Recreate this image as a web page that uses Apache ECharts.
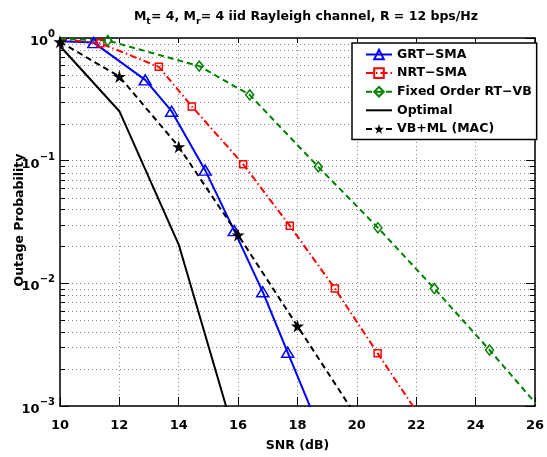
<!DOCTYPE html>
<html>
<head>
<meta charset="utf-8">
<script src="https://cdn.jsdelivr.net/npm/echarts@6/dist/echarts.min.js"></script>
<style>html,body{margin:0;padding:0;background:#fff}#c{width:547px;height:457px}</style>
</head>
<body>
<div id="c"></div>
<script>
// ---- data ----
const xTicks = [10, 12, 14, 16, 18, 20, 22, 24, 26];
const yTicks = [0.001, 0.01, 0.1, 1];

const grtX = [10, 11.14, 12.87, 13.76, 14.89, 15.87, 16.83, 17.67, 18.6];
const grtY = [0.94, 0.917, 0.456, 0.253, 0.0837, 0.0269, 0.00853, 0.00274, 0.00078];

const nrtX = [10, 11.36, 13.33, 14.44, 16.17, 17.74, 19.26, 20.7, 22.2];
const nrtY = [0.98, 0.906, 0.582, 0.277, 0.0935, 0.0295, 0.00906, 0.00269, 0.00077];

const fixX = [10, 11.61, 14.69, 16.39, 18.7, 20.71, 22.61, 24.47, 26.3];
const fixY = [0.99, 0.952, 0.590, 0.344, 0.089, 0.0284, 0.00907, 0.00286, 0.00088];

const optX = [10, 12, 14, 16];
const optY = [0.86, 0.253, 0.0207, 0.00046];

const vbX = [10, 12, 14, 16, 18, 20];
const vbY = [0.93, 0.485, 0.130, 0.0248, 0.00448, 0.00081];

const seriesNames = ['GRT\u2212SMA', 'NRT\u2212SMA', 'Fixed Order RT\u2212VB', 'Optimal', 'VB+ML (MAC)'];

// minor tick positions of the log axis (2..9 per decade)
const minorY = [];
[-3, -2, -1].forEach(function (d) {
  for (let k = 2; k <= 9; k++) minorY.push(+(k * Math.pow(10, d)).toPrecision(3));
});

function pairs(xs, ys, hideFirst) {
  return xs.map(function (x, i) {
    const item = { value: [x, ys[i]] };
    if (hideFirst && i === 0) item.symbol = 'none';
    return item;
  });
}

const STAR = 'path://M50,0 L61.2,34.5 L97.6,34.5 L68.2,55.9 L79.4,90.5 L50,69.1 L20.6,90.5 L31.8,55.9 L2.4,34.5 L38.8,34.5 Z';
const FONT = '"DejaVu Sans", Verdana, sans-serif';

const chart = echarts.init(document.getElementById('c'), null, { renderer: 'canvas' });

const axisLineStyle = { color: '#000', width: 1.5 };

chart.setOption({
  animation: false,
  backgroundColor: '#fff',
  textStyle: { fontFamily: FONT },
  title: {
    left: 301, top: 1, textAlign: 'center',
    text: '{n|M}{s|t}{n|= 4, M}{s|r}{n|= 4 iid Rayleigh channel, R = 12 bps/Hz}',
    textStyle: {
      rich: {
        n: { fontFamily: FONT, fontSize: 12.5, fontWeight: 'bold', color: '#000' },
        s: { fontFamily: FONT, fontSize: 9.5, fontWeight: 'bold', color: '#000', padding: [11, 0, 0, 0] }
      }
    }
  },
  grid: { left: 60, right: 7, top: 38, bottom: 44 },
  legend: {
    data: [
      { name: seriesNames[0] },
      { name: seriesNames[1] },
      { name: seriesNames[2] },
      { name: seriesNames[3], itemStyle: { opacity: 0 } },
      { name: seriesNames[4] }
    ],
    orient: 'vertical',
    left: 352, top: 43,
    padding: [5, 5, 4, 13],
    itemWidth: 26, itemHeight: 12, itemGap: 5.6,
    backgroundColor: '#fff',
    borderColor: '#000', borderWidth: 1.5,
    textStyle: { fontFamily: FONT, fontSize: 12.5, fontWeight: 'bold', color: '#000' }
  },
  xAxis: [{
    type: 'value', min: xTicks[0], max: xTicks[xTicks.length - 1], interval: 2,
    name: 'SNR (dB)', nameLocation: 'middle', nameGap: 33,
    nameTextStyle: { fontFamily: FONT, fontSize: 12.5, fontWeight: 'bold', color: '#000' },
    axisLine: { lineStyle: axisLineStyle },
    axisTick: { inside: true, length: 9, lineStyle: { color: '#000', width: 1 } },
    axisLabel: { fontFamily: FONT, fontSize: 13, fontWeight: 'bold', color: '#000', margin: 13 },
    splitLine: { show: true, lineStyle: { color: '#888', width: 1, type: [1, 3] } }
  }, {
    type: 'value', position: 'top', min: xTicks[0], max: xTicks[xTicks.length - 1], interval: 2,
    axisLine: { show: true, lineStyle: axisLineStyle },
    axisTick: { show: true, inside: true, length: 5, lineStyle: { color: '#000', width: 1 } },
    axisLabel: { show: false },
    splitLine: { show: false }
  }],
  yAxis: [{
    type: 'log', logBase: 10, min: yTicks[0], max: yTicks[yTicks.length - 1],
    axisLine: { show: true, lineStyle: axisLineStyle },
    axisTick: { show: true, inside: true, length: 9, lineStyle: { color: '#000', width: 1 } },
    axisLabel: {
      margin: 5,
      formatter: function (v) {
        const e = Math.round(Math.log10(v));
        return '{b|10}{s|' + (e < 0 ? '\u2212' + (-e) : e) + '}';
      },
      rich: {
        b: { fontFamily: FONT, fontSize: 13, fontWeight: 'bold', color: '#000', padding: [7, 0, 0, 0] },
        s: { fontFamily: FONT, fontSize: 10, fontWeight: 'bold', color: '#000', padding: [0, 0, 7, 0] }
      }
    },
    splitLine: { show: true, lineStyle: { color: '#888', width: 1, type: [1, 3] } },
    minorTick: { show: false }
  }, {
    type: 'log', logBase: 10, position: 'right', min: yTicks[0], max: yTicks[yTicks.length - 1],
    axisLine: { show: true, lineStyle: axisLineStyle },
    axisTick: { show: true, inside: true, length: 9, lineStyle: { color: '#000', width: 1 } },
    axisLabel: { show: false },
    splitLine: { show: false }
  }],
  graphic: [{
    type: 'text', rotation: Math.PI / 2,
    style: { text: 'Outage Probability', font: 'bold 12.5px ' + FONT, fill: '#000', textAlign: 'center', textVerticalAlign: 'middle' },
    x: 20, y: 220
  }],
  series: [
    {
      type: 'custom', name: 'minor', z: 1, silent: true,
      xAxisIndex: 0, yAxisIndex: 0,
      data: minorY.map(function (v) { return [xTicks[0], v]; }),
      encode: { x: 0, y: 1 },
      clip: false,
      renderItem: function (params, api) {
        const p = api.coord([api.value(0), api.value(1)]);
        const y = Math.round(p[1]) + 0.5;
        const cs = params.coordSys;
        const L = cs.x, R = cs.x + cs.width;
        return {
          type: 'group', children: [
            { type: 'line', shape: { x1: L, y1: y, x2: R, y2: y }, style: { stroke: '#888', lineWidth: 1, lineDash: [1, 3] } },
            { type: 'line', shape: { x1: L, y1: y, x2: L + 5, y2: y }, style: { stroke: '#000', lineWidth: 1 } },
            { type: 'line', shape: { x1: R - 5, y1: y, x2: R, y2: y }, style: { stroke: '#000', lineWidth: 1 } }
          ]
        };
      }
    },
    {
      name: seriesNames[0], type: 'line', z: 3, clip: true,
      data: pairs(grtX, grtY, true),
      symbol: 'triangle', symbolSize: [12, 10],
      lineStyle: { color: '#0000ff', width: 2, type: 'solid' },
      itemStyle: { color: 'rgba(255,255,255,0)', borderColor: '#0000ff', borderWidth: 1.5 }
    },
    {
      name: seriesNames[1], type: 'line', z: 3, clip: true,
      data: pairs(nrtX, nrtY, true),
      symbol: 'rect', symbolSize: 7,
      lineStyle: { color: '#ff0000', width: 2, type: [7, 3, 1.5, 3] },
      itemStyle: { color: 'rgba(255,255,255,0)', borderColor: '#ff0000', borderWidth: 1.5 }
    },
    {
      name: seriesNames[2], type: 'line', z: 3, clip: true,
      data: pairs(fixX, fixY, true),
      symbol: 'diamond', symbolSize: [8, 10],
      lineStyle: { color: '#008000', width: 2, type: [6, 4] },
      itemStyle: { color: 'rgba(255,255,255,0)', borderColor: '#008000', borderWidth: 1.5 }
    },
    {
      name: seriesNames[3], type: 'line', z: 3, clip: true,
      data: pairs(optX, optY, false),
      symbol: 'none',
      lineStyle: { color: '#000', width: 2, type: 'solid' },
      itemStyle: { color: '#000' }
    },
    {
      name: seriesNames[4], type: 'line', z: 4, clip: true,
      data: pairs(vbX, vbY, false),
      symbol: STAR, symbolSize: 13,
      lineStyle: { color: '#000', width: 2, type: [6, 4] },
      itemStyle: { color: '#000' }
    }
  ]
});
</script>
</body>
</html>
